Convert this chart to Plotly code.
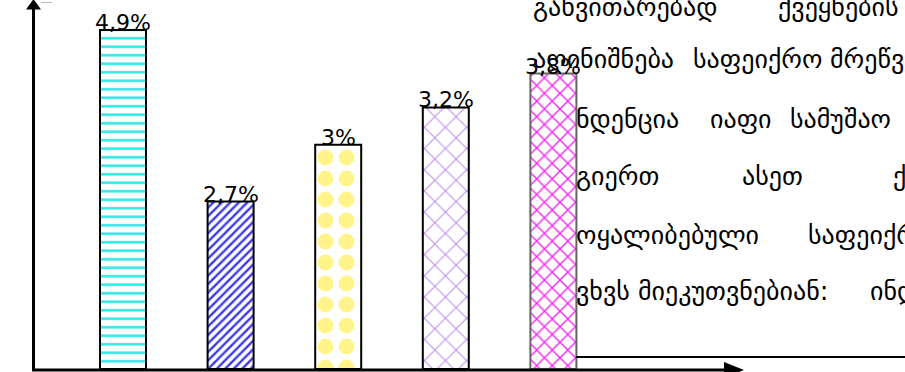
import plotly.graph_objects as go

W, H = 905, 372

# ---- data ----
bar_index = [0, 1, 2, 3, 4]
bar_heights = [4.9, 2.42, 3.24, 3.78, 4.27]       # drawn bar heights
bar_labels = ["4,9%", "2,7%", "3%", "3,2%", "3,8%"]
pattern_shapes = ["-", "/", ".", "x", "x"]
pattern_colors = ["#2fe8e8", "#3a3ae8", "#fff38a", "#bf94f0", "#f22cf2"]
pattern_sizes = [8.5, 6, 21, 15, 11]
pattern_solid = [0.3, 0.4, 0.45, 0.15, 0.25]
outline_colors = ["black", "black", "black", "black", "#666666"]

text_words = [
    ["განვითარებად", "ქვეყნების"],
    ["აღინიშნება", "საფეიქრო", "მრეწველობის"],
    ["ნდენცია", "იაფი", "სამუშაო"],
    ["გიერთ", "ასეთ", "ქვეყანაში"],
    ["ოყალიბებული", "საფეიქრო"],
    ["ვხვს", "მიეკუთვნებიან:", "ინდოეთი"],
]
word_x = [
    [533, 778],
    [533, 693, 830],
    [576, 710, 790],
    [576, 742, 893],
    [576, 808],
    [576, 638, 870],
]
line_y = [9, 61, 121, 178, 237, 293]

# ---- pixel <-> paper helpers ----
def px(x):
    return x / W

def py(y):
    return 1 - y / H

PX_PER_X = 107.6
X0 = 123.0
xmin = -X0 / PX_PER_X
xmax = xmin + W / PX_PER_X
PX_PER_Y = 69.2
BASE = 369.0
ymin = -(H - BASE) / PX_PER_Y
ymax = BASE / PX_PER_Y

def dx(p):
    return xmin + p / PX_PER_X

def dy(p):
    return (BASE - p) / PX_PER_Y

fig = go.Figure()
fig.add_trace(go.Bar(
    x=bar_index, y=bar_heights, width=46 / PX_PER_X,
    marker=dict(
        color="white",
        line=dict(color=outline_colors, width=2),
        pattern=dict(shape=pattern_shapes, fgcolor=pattern_colors, bgcolor="white",
                     size=pattern_sizes, solidity=pattern_solid, fillmode="replace"),
    ),
    hoverinfo="skip",
))

# body text (clipped at the right edge like the reference)
tx, ty, tt = [], [], []
for words, xs, y in zip(text_words, word_x, line_y):
    for w, x in zip(words, xs):
        tx.append(dx(x))
        ty.append(dy(y))
        tt.append(w)
fig.add_trace(go.Scatter(
    x=tx, y=ty, text=tt, mode="text", textposition="middle right",
    marker=dict(size=0), cliponaxis=True, hoverinfo="skip",
    textfont=dict(family="DejaVu Sans", size=26, color="black"),
))

annotations = []
for i, (h, lab) in enumerate(zip(bar_heights, bar_labels)):
    annotations.append(dict(x=bar_index[i], y=h, xref="x", yref="y", text=lab,
                            showarrow=False, yanchor="bottom", xanchor="center", yshift=-7,
                            font=dict(family="DejaVu Sans", size=22, color="black")))

def path(pts):
    s = "M " + " L ".join(f"{px(a):.5f},{py(b):.5f}" for a, b in pts) + " Z"
    return s

shapes = [
    dict(type="line", xref="paper", yref="paper", x0=px(33.5), x1=px(33.5), y0=py(370), y1=py(8),
         line=dict(color="black", width=3)),
    dict(type="path", xref="paper", yref="paper", path=path([(26, 9.5), (41, 9.5), (33.5, -1)]),
         fillcolor="black", line=dict(color="black", width=0)),
    dict(type="line", xref="paper", yref="paper", x0=px(41), x1=px(52), y0=py(2.5), y1=py(2.5),
         line=dict(color="#bbbbbb", width=1)),
    dict(type="line", xref="paper", yref="paper", x0=px(32), x1=px(728), y0=py(370), y1=py(370),
         line=dict(color="black", width=3)),
    dict(type="path", xref="paper", yref="paper", path=path([(724, 362), (724, 378), (744, 370)]),
         fillcolor="black", line=dict(color="black", width=0)),
    dict(type="line", xref="paper", yref="paper", x0=px(576), x1=px(905), y0=py(357), y1=py(357),
         line=dict(color="black", width=2)),
]

fig.update_layout(
    width=W, height=H, margin=dict(l=0, r=0, t=0, b=0),
    paper_bgcolor="white", plot_bgcolor="white", showlegend=False,
    xaxis=dict(visible=False, range=[xmin, xmax], fixedrange=True),
    yaxis=dict(visible=False, range=[ymin, ymax], fixedrange=True),
    annotations=annotations, shapes=shapes,
)

fig.write_html("out.html", config={"displayModeBar": False})
